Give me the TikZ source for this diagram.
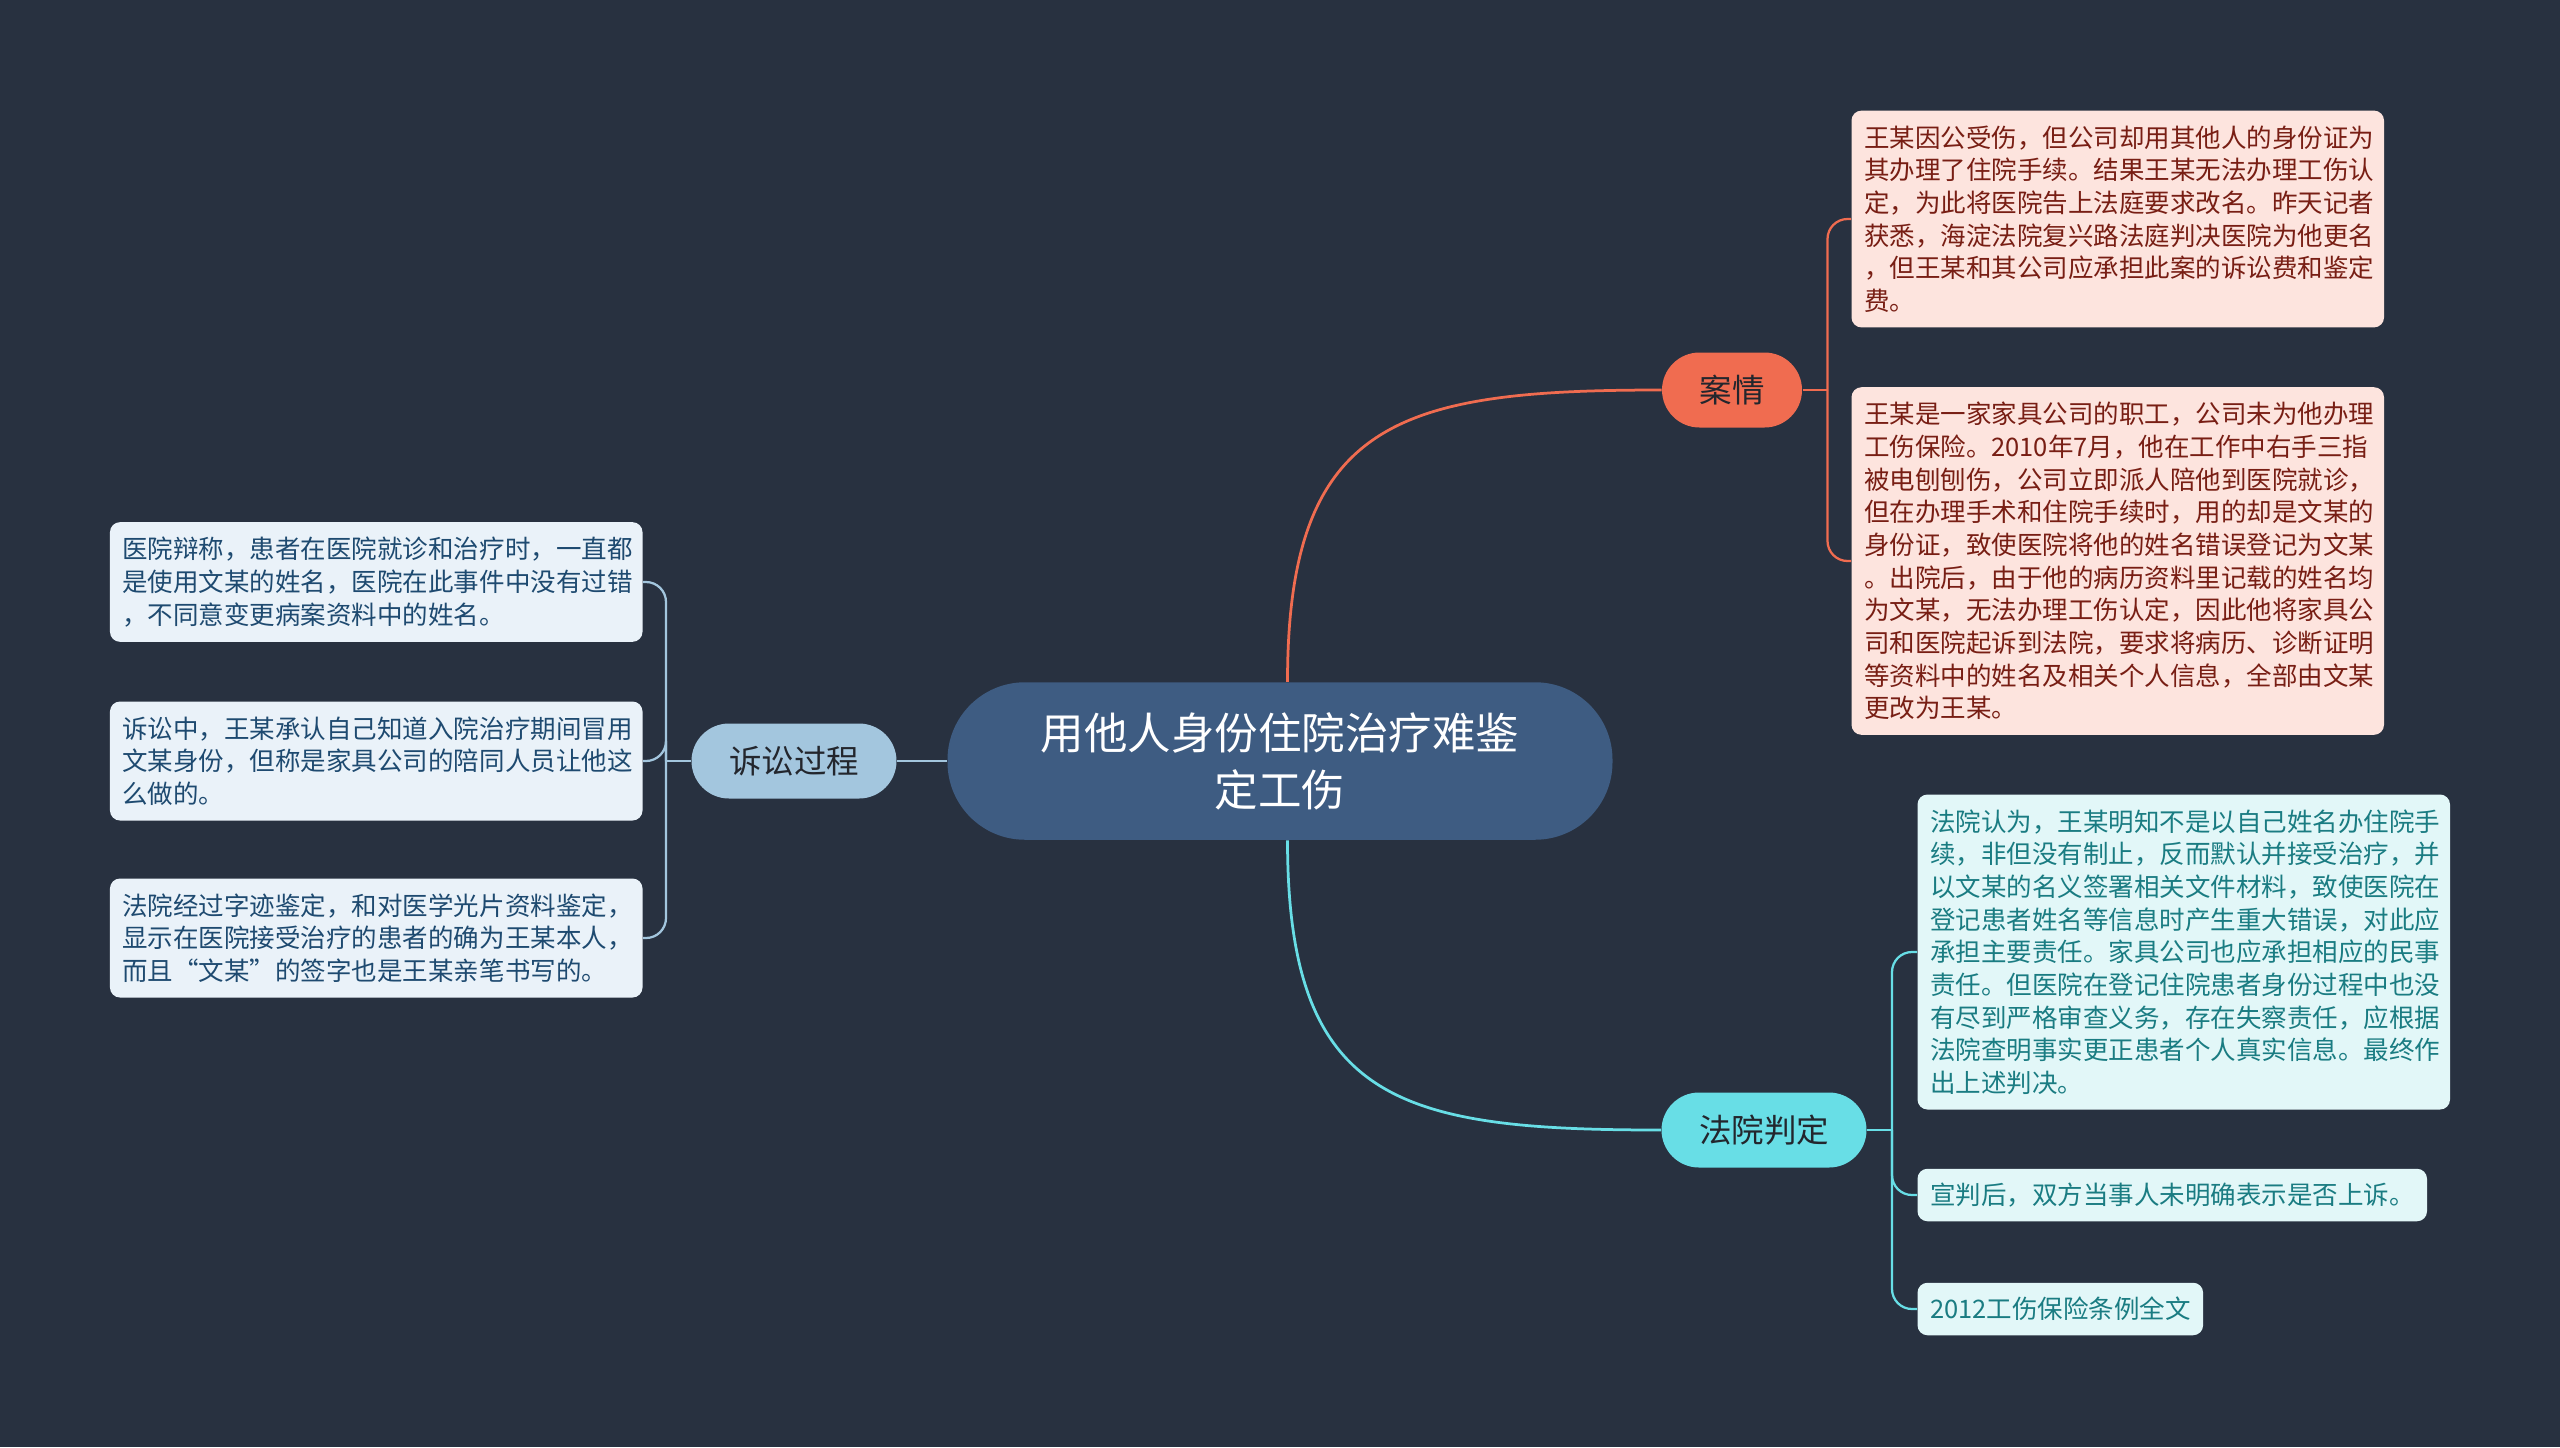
\documentclass[tikz,border=0pt]{standalone}
\usepackage{fontspec}
\setmainfont{Noto Sans CJK SC}
\usetikzlibrary{positioning}
\definecolor{bgdark}{RGB}{40,49,64}
\definecolor{rootblue}{RGB}{62,92,130}
\definecolor{caseorange}{RGB}{240,108,80}
\definecolor{casetext}{RGB}{120,30,20}
\definecolor{casefill}{RGB}{253,228,222}
\definecolor{courtcyan}{RGB}{104,222,230}
\definecolor{courttext}{RGB}{26,124,130}
\definecolor{courtfill}{RGB}{226,247,248}
\definecolor{litblue}{RGB}{163,198,222}
\definecolor{littext}{RGB}{30,74,112}
\definecolor{litfill}{RGB}{234,242,249}
\definecolor{topictext}{RGB}{35,38,45}

\begin{document}
\begin{tikzpicture}[x=0.4pt,y=-0.4pt,
    rootnode/.style={fill=rootblue, text=white, rounded corners=31pt,
        minimum width=266pt, minimum height=63pt, align=center,
        font=\fontsize{17.4pt}{22.9pt}\selectfont},
    topic/.style={text=topictext, rounded corners=15pt, minimum height=30pt,
        font=\fontsize{13pt}{15pt}\selectfont},
    leaf/.style={rounded corners=4pt, inner xsep=5pt, inner ysep=5pt,
        minimum height=21pt, align=left,
        font=\fontsize{10.2pt}{13.06pt}\selectfont},
    wide/.style={text width=203pt, inner ysep=6pt},
    caseleaf/.style={leaf, fill=casefill, text=casetext},
    litleaf/.style={leaf, fill=litfill, text=littext},
    courtleaf/.style={leaf, fill=courtfill, text=courttext},
    branch/.style={line width=1.1pt},
    twig/.style={line width=0.9pt, rounded corners=8pt}]

    \fill[bgdark] (0,0) rectangle (2560,1447);

    % centre and topics
    \node[rootnode] (root) at (1280,761) {用他人身份住院治疗难鉴\\定工伤};
    \node[topic, fill=caseorange, minimum width=56pt] (anqing) at (1732,390) {案情};
    \node[topic, fill=courtcyan, minimum width=82pt] (panding) at (1764,1130) {法院判定};
    \node[topic, fill=litblue, minimum width=82pt] (susong) at (794,761) {诉讼过程};

    % case details
    \node[caseleaf, wide, anchor=west] (case1) at (1851,219) {王某因公受伤，但公司却用其他人的身份证为\\其办理了住院手续。结果王某无法办理工伤认\\定，为此将医院告上法庭要求改名。昨天记者\\获悉，海淀法院复兴路法庭判决医院为他更名\\，但王某和其公司应承担此案的诉讼费和鉴定\\费。};
    \node[caseleaf, wide, anchor=west] (case2) at (1851,561) {王某是一家家具公司的职工，公司未为他办理\\工伤保险。2010年7月，他在工作中右手三指\\被电刨刨伤，公司立即派人陪他到医院就诊，\\但在办理手术和住院手续时，用的却是文某的\\身份证，致使医院将他的姓名错误登记为文某\\。出院后，由于他的病历资料里记载的姓名均\\为文某，无法办理工伤认定，因此他将家具公\\司和医院起诉到法院，要求将病历、诊断证明\\等资料中的姓名及相关个人信息，全部由文某\\更改为王某。};

    % litigation
    \node[litleaf, wide, anchor=east] (lit1) at (643,582) {医院辩称，患者在医院就诊和治疗时，一直都\\是使用文某的姓名，医院在此事件中没有过错\\，不同意变更病案资料中的姓名。};
    \node[litleaf, wide, anchor=east] (lit2) at (643,761) {诉讼中，王某承认自己知道入院治疗期间冒用\\文某身份，但称是家具公司的陪同人员让他这\\么做的。};
    \node[litleaf, wide, anchor=east] (lit3) at (643,938) {法院经过字迹鉴定，和对医学光片资料鉴定，\\显示在医院接受治疗的患者的确为王某本人，\\而且“文某”的签字也是王某亲笔书写的。};

    % judgement
    \node[courtleaf, wide, anchor=west] (court1) at (1917,952) {法院认为，王某明知不是以自己姓名办住院手\\续，非但没有制止，反而默认并接受治疗，并\\以文某的名义签署相关文件材料，致使医院在\\登记患者姓名等信息时产生重大错误，对此应\\承担主要责任。家具公司也应承担相应的民事\\责任。但医院在登记住院患者身份过程中也没\\有尽到严格审查义务，存在失察责任，应根据\\法院查明事实更正患者个人真实信息。最终作\\出上述判决。};
    \node[courtleaf, anchor=west] (court2) at (1917,1195) {宣判后，双方当事人未明确表示是否上诉。};
    \node[courtleaf, anchor=west] (court3) at (1917,1309) {2012工伤保险条例全文};

    % main branches
    \draw[branch, caseorange] ([xshift=3pt]root.north) .. controls +(0,-262) and +(-262,0) .. (anqing.west);
    \draw[branch, courtcyan] ([xshift=3pt]root.south) .. controls +(0,262) and +(-262,0) .. (panding.west);
    \draw[branch, litblue] (root.west) -- (susong.east);

    % sub branches
    \coordinate[right=10pt of anqing] (forkA);
    \coordinate[right=10pt of panding] (forkB);
    \coordinate[left=10pt of susong] (forkC);
    \draw[twig, caseorange] (anqing.east) -- (forkA);
    \foreach \leaf in {case1,case2}
        \draw[twig, caseorange] (forkA) |- (\leaf.west);
    \draw[twig, courtcyan] (panding.east) -- (forkB);
    \foreach \leaf in {court1,court2,court3}
        \draw[twig, courtcyan] (forkB) |- (\leaf.west);
    \draw[twig, litblue] (susong.west) -- (forkC);
    \foreach \leaf in {lit1,lit2,lit3}
        \draw[twig, litblue] (forkC) |- (\leaf.east);
\end{tikzpicture}
\end{document}
